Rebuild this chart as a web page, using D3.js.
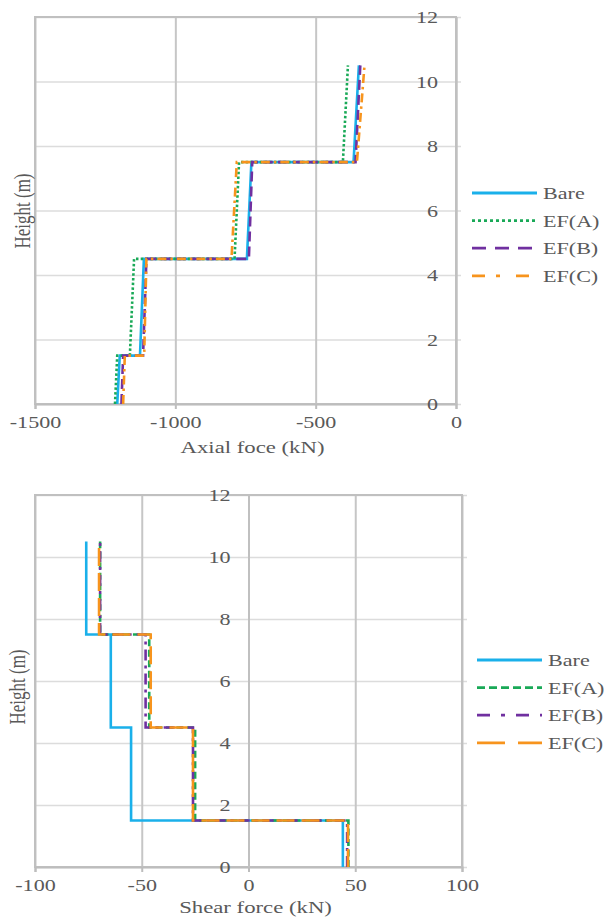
<!DOCTYPE html>
<html>
<head>
<meta charset="utf-8">
<script src="https://cdn.jsdelivr.net/npm/d3@7"></script>
<style>
  body { margin: 0; background: #fff; }
  svg { display: block; }
  text { font-family: "Liberation Serif", "Times New Roman", serif; fill: #595959; }
</style>
</head>
<body>
<div id="chart"></div>
<script>
// --- data ---
const seriesNames = ["Bare", "EF(A)", "EF(B)", "EF(C)"];
const seriesColors = ["#1ab0ea", "#19a957", "#7030a0", "#f7941d"];

// step profile: each storey has a bottom and top point
const stepHeights = [0, 1.5, 1.5, 4.5, 4.5, 7.5, 7.5, 10.5];

const axialBare = [-1207, -1198, -1126, -1112, -745, -729, -365, -346];
const axialA    = [-1215, -1207, -1162, -1147, -789, -773, -403, -385];
const axialB    = [-1192, -1186, -1115, -1103, -738, -726, -358, -341];
const axialC    = [-1186, -1180, -1111, -1103, -800, -781, -353, -326];

const shearBare = [44.2, 44.2, -55, -55, -64.5, -64.5, -76, -76];
const shearA    = [46.8, 46.8, -25, -25, -46.5, -46.5, -69.5, -69.5];
const shearB    = [46.2, 46.2, -26, -26, -48.2, -48.2, -69.5, -69.5];
const shearC    = [46.6, 46.6, -26, -26, -45.8, -45.8, -70, -70];

const axialTicks = [-1500, -1000, -500, 0];
const shearTicks = [-100, -50, 0, 50, 100];
const heightTicks = [0, 2, 4, 6, 8, 10, 12];

const W = 607, H = 918;
const SX = 1.3; // the figure's text is stretched sideways
const plain = d => String(d); // keep the plain hyphen minus

const svg = d3.select("#chart").append("svg")
    .attr("width", W)
    .attr("height", H);

function drawPanel(opts) {
    const x = d3.scaleLinear().domain(opts.xDomain).range([opts.left, opts.right]);
    const y = d3.scaleLinear().domain([0, 12]).range([opts.bottom, opts.top]);
    const g = svg.append("g");

    // horizontal gridlines
    g.append("g")
        .attr("transform", `translate(${opts.left},0)`)
        .call(d3.axisLeft(y).tickValues(heightTicks).tickSize(-(opts.right - opts.left) - 5).tickFormat(""))
        .call(a => a.select(".domain").remove())
        .call(a => a.selectAll(".tick line").attr("stroke", "#dcdcdc").attr("stroke-width", 1.5));

    // vertical gridlines
    g.append("g")
        .attr("transform", `translate(0,${opts.bottom})`)
        .call(d3.axisBottom(x).tickValues(opts.xTicks).tickSize(-(opts.bottom - opts.top)).tickFormat(""))
        .call(a => a.select(".domain").remove())
        .call(a => a.selectAll(".tick line").attr("stroke", "#c6c6c6").attr("stroke-width", 2));

    // plot frame
    g.append("rect")
        .attr("x", opts.left).attr("y", opts.top)
        .attr("width", opts.right - opts.left).attr("height", opts.bottom - opts.top)
        .attr("fill", "none").attr("stroke", "#c0c0c0").attr("stroke-width", 2);

    // x axis with labels
    const xAxis = g.append("g")
        .attr("transform", `translate(0,${opts.bottom})`)
        .attr("font-family", null)
        .call(d3.axisBottom(x).tickValues(opts.xTicks).tickSize(5).tickFormat(plain));
    xAxis.select(".domain").attr("stroke", "#bdbdbd").attr("stroke-width", 2);
    xAxis.selectAll(".tick line").attr("stroke", "#bdbdbd").attr("stroke-width", 2);
    xAxis.selectAll(".tick text")
        .attr("x", 0).attr("y", 0).attr("dy", "0.35em")
        .attr("transform", `translate(0,18) scale(${SX},1)`)
        .attr("font-size", 17)
        .attr("fill", "#595959");

    // y axis at x = 0
    const yAxis = g.append("g")
        .attr("transform", `translate(${x(0)},0)`)
        .call(d3.axisLeft(y).tickValues(heightTicks).tickSizeInner(0).tickSizeOuter(0).tickFormat(plain));
    yAxis.select(".domain").attr("stroke", "#c0c0c0").attr("stroke-width", 2);
    yAxis.selectAll(".tick text")
        .attr("x", 0).attr("dy", "0.35em")
        .attr("text-anchor", "end")
        .attr("transform", `translate(-18,0) scale(${SX},1)`)
        .attr("font-size", 17)
        .attr("fill", "#595959");

    // axis titles
    g.append("text")
        .attr("transform", `translate(${(opts.left + opts.right) / 2 + 7},${opts.bottom + opts.xTitleGap}) scale(${SX},1)`)
        .attr("text-anchor", "middle")
        .attr("dy", "0.35em")
        .attr("font-size", 17.5)
        .text(opts.xTitle);

    g.append("text")
        .attr("transform", `translate(${opts.yTitleX},${opts.yTitleY}) rotate(-90) scale(1,${SX})`)
        .attr("text-anchor", "middle")
        .attr("dy", "0.35em")
        .attr("font-size", 17)
        .text("Height (m)");

    // series
    const line = d3.line().x(d => x(d[0])).y(d => y(d[1]));
    opts.series.forEach((vals, i) => {
        const pts = vals.map((v, k) => [v, stepHeights[k]]);
        g.append("path")
            .datum(pts)
            .attr("d", line)
            .attr("fill", "none")
            .attr("stroke", seriesColors[i])
            .attr("stroke-width", 2.6)
            .attr("stroke-dasharray", opts.dashes[i]);
    });

    // legend
    const leg = g.append("g");
    seriesNames.forEach((name, i) => {
        const ly = opts.legendY + i * 27.6;
        leg.append("line")
            .attr("x1", opts.legendX).attr("x2", opts.legendX + 65)
            .attr("y1", ly).attr("y2", ly)
            .attr("stroke", seriesColors[i])
            .attr("stroke-width", 2.8)
            .attr("stroke-dasharray", opts.legendDashes[i]);
        leg.append("text")
            .attr("transform", `translate(${opts.legendX + 71},${ly}) scale(${SX},1)`)
            .attr("dy", "0.35em")
            .attr("font-size", 17)
            .attr("fill", "#404040")
            .text(name);
    });
}

// top panel: axial force
drawPanel({
    xDomain: [-1500, 0], xTicks: axialTicks,
    left: 35, right: 456, top: 17, bottom: 404,
    xTitle: "Axial foce (kN)", xTitleGap: 43,
    yTitleX: 22, yTitleY: 211,
    series: [axialBare, axialA, axialB, axialC],
    dashes: [null, "2.5,2.2", "10,5", "9,4,2.5,4"],
    legendDashes: [null, "3,3", "14,9", "13,11,4,16"],
    legendX: 472, legendY: 193
});

// bottom panel: shear force
drawPanel({
    xDomain: [-100, 100], xTicks: shearTicks,
    left: 35, right: 462, top: 495, bottom: 867,
    xTitle: "Shear force (kN)", xTitleGap: 40,
    yTitleX: 17, yTitleY: 687,
    series: [shearBare, shearA, shearB, shearC],
    dashes: [null, "7,3.5", "11,5,3,5", "18,7"],
    legendDashes: [null, "8,4", "13,11,4,11", "28,13"],
    legendX: 477, legendY: 660
});
</script>
</body>
</html>
